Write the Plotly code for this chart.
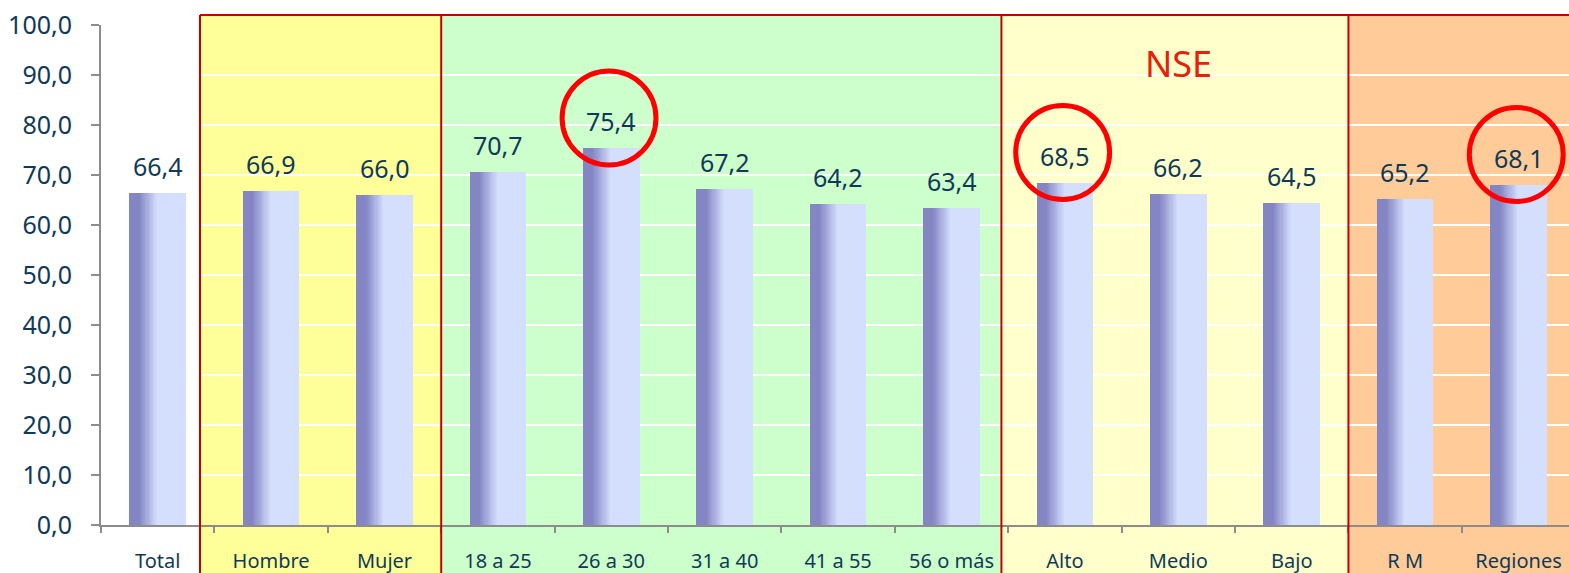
import plotly.graph_objects as go

categories = ["Total", "Hombre", "Mujer", "18 a 25", "26 a 30", "31 a 40",
              "41 a 55", "56 o más", "Alto", "Medio", "Bajo", "R M", "Regiones"]
values = [66.4, 66.9, 66.0, 70.7, 75.4, 67.2, 64.2, 63.4, 68.5, 66.2, 64.5, 65.2, 68.1]
highlighted = ["26 a 30", "Alto", "Regiones"]
group_title = "NSE"
group_title_at = "Medio"
y_ticks = [0, 10, 20, 30, 40, 50, 60, 70, 80, 90, 100]

TEXT = "#0F3A57"
FONT = "Noto Sans"
W, H = 1569, 573
ML, MT, MB = 101, 25, 48

# band edges in category-index units and colours
bands = [(0.373, 2.5, "#FFFF99"), (2.5, 7.44, "#CCFFCC"),
         (7.44, 10.5, "#FFFFCC"), (10.5, 12.45, "#FFCC99")]
XR = [-0.5, 12.445]

def fmt(v):
    return f"{v:.1f}".replace(".", ",")

fig = go.Figure()

# gradient bars as overlaid slices (each slice extends to the bar's right edge)
BW = 0.5
dark = (132, 134, 196)
light = (212, 222, 253)
G0, G1, NSTEP = 0.16, 0.48, 16
stops = [0.0] + [G0 + (G1 - G0) * k / NSTEP for k in range(1, NSTEP + 1)]
for i, f0 in enumerate(stops):
    t = 0.0 if i == 0 else (f0 - G0) / (G1 - G0)
    c = tuple(round(dark[k] + (light[k] - dark[k]) * t) for k in range(3))
    fig.add_trace(go.Bar(
        x=categories, y=values,
        width=BW * (1 - f0), offset=-BW / 2 + BW * f0,
        marker=dict(color=f"rgb{c}", line=dict(width=0)),
        hoverinfo="skip", showlegend=False))

shapes = []
for x0, x1, col in bands:
    shapes.append(dict(type="rect", xref="x", yref="paper", x0=x0, x1=x1,
                       y0=-0.1, y1=1.02, fillcolor=col, line=dict(width=0),
                       layer="below"))
RED = "#C80000"
for x0, x1, col in bands:
    shapes.append(dict(type="line", xref="x", yref="paper", x0=x0, x1=x0,
                       y0=-0.1, y1=1.02, line=dict(color=RED, width=2),
                       layer="above"))
shapes.append(dict(type="line", xref="x", yref="paper", x0=bands[0][0], x1=XR[1],
                   y0=1.02, y1=1.02, line=dict(color=RED, width=2), layer="above"))

for cat in highlighted:
    idx = categories.index(cat)
    v = values[idx]
    cx, cy = idx - 0.02, v + 6.0
    shapes.append(dict(type="circle", xref="x", yref="y",
                       x0=cx - 0.414, x1=cx + 0.414, y0=cy - 9.4, y1=cy + 9.4,
                       line=dict(color="#FF0000", width=5), layer="above"))

annotations = []
for cat, v in zip(categories, values):
    annotations.append(dict(x=cat, y=v, xref="x", yref="y", text=fmt(v),
                            showarrow=False, yanchor="bottom", yshift=8,
                            font=dict(family=FONT, size=25, color=TEXT)))
annotations.append(dict(x=group_title_at, y=92.3, xref="x", yref="y",
                        text=group_title, showarrow=False, yanchor="middle",
                        font=dict(family=FONT, size=36, color="#E8200A")))

fig.update_layout(
    width=W, height=H,
    margin=dict(l=ML, r=0, t=MT, b=MB, pad=0),
    paper_bgcolor="white", plot_bgcolor="white",
    barmode="overlay", bargap=0, showlegend=False,
    shapes=shapes, annotations=annotations,
    separators=",.",
)
fig.update_xaxes(
    type="category", range=XR, showgrid=False, zeroline=False,
    showline=True, linecolor="#8C8C8C", linewidth=2,
    ticks="outside", ticklen=6, tickcolor="#8C8C8C", tickwidth=2,
    tickson="boundaries", ticklabelstandoff=17,
    tickfont=dict(family=FONT, size=20, color=TEXT),
)
fig.update_yaxes(
    range=[0, 100], tickvals=y_ticks, tickformat=".1f",
    showgrid=True, gridcolor="white", gridwidth=2, zeroline=False,
    showline=True, linecolor="#8C8C8C", linewidth=2,
    ticks="outside", ticklen=8, tickcolor="#8C8C8C", tickwidth=2,
    ticklabelstandoff=14,
    tickfont=dict(family=FONT, size=25, color=TEXT),
)

fig.write_html("out.html", config={"displayModeBar": False},
               post_script="document.body.style.margin='0';document.body.style.overflow='hidden';")
